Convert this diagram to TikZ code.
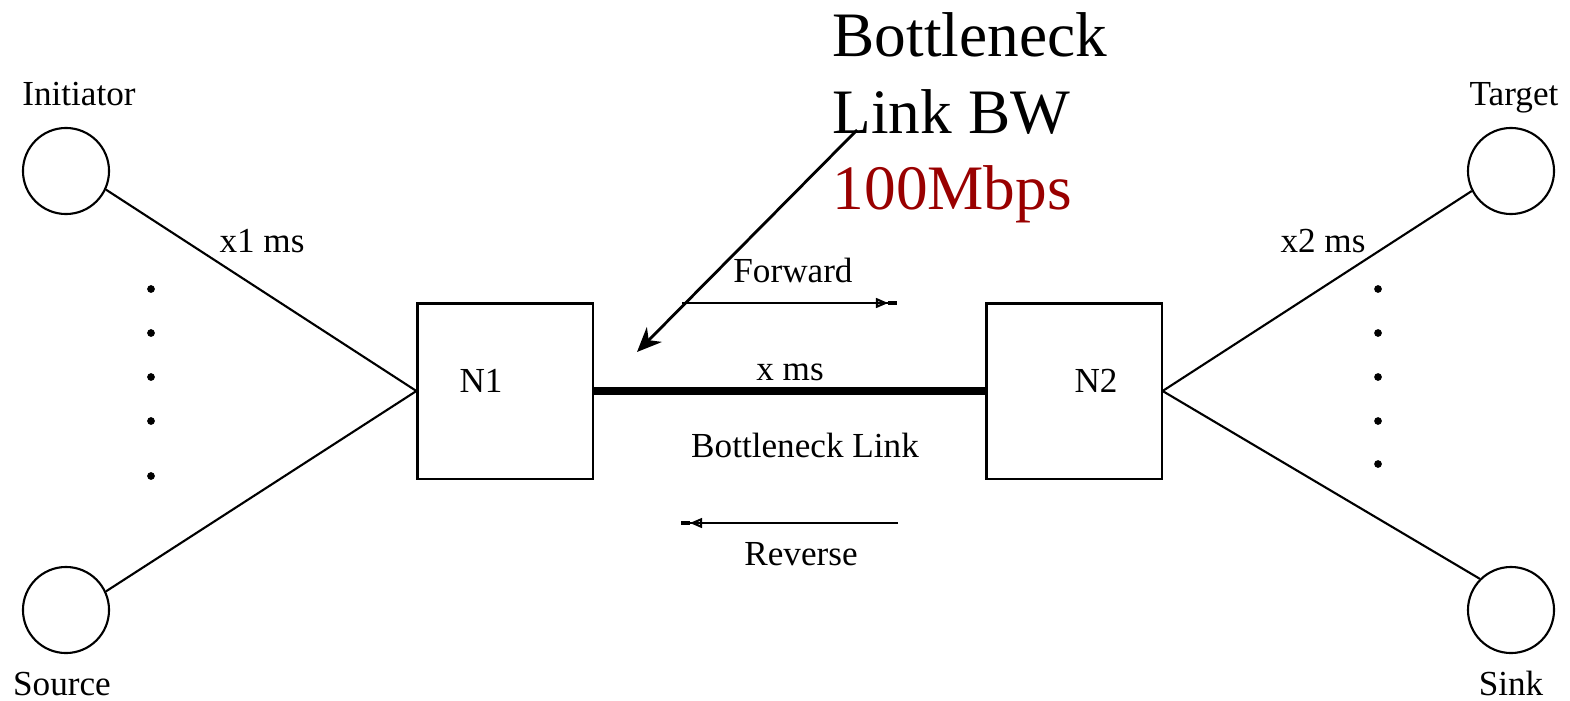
\documentclass[tikz,border=0pt]{standalone}
\usepackage{fontspec}
\setmainfont{Liberation Serif}
\usepackage{tikz}
\usetikzlibrary{arrows.meta,positioning}
\definecolor{bwred}{RGB}{153,0,0}

\begin{document}
\begin{tikzpicture}[
    x=0.01cm, y=-0.01cm,
    host/.style={circle, draw, line width=0.6pt, minimum size=0.86cm, inner sep=0pt},
    router/.style={rectangle, draw, line width=0.6pt, minimum width=1.75cm, minimum height=1.75cm, inner sep=0pt},
    lbl/.style={inner sep=0pt, anchor=base, font=\fontsize{10}{12}\selectfont},
    link/.style={line width=0.6pt},
    dirarrow/.style={line width=0.6pt, -{Triangle[open,length=3.5pt,width=2.8pt] Rectangle[length=2.5pt,width=1.2pt]}}
]
\useasboundingbox (0,0) rectangle (1570,700);

% end hosts
\node[host] (I) at (66,171) {};
\node[host] (S) at (66,610) {};
\node[host] (T) at (1511,171) {};
\node[host] (K) at (1511,610) {};
\node[lbl] (Ilbl) at (79,105) {Initiator};
\node[lbl] (Slbl) at (62,695) {Source};
\node[lbl] (Tlbl) at (1514,105) {Target};
\node[lbl] (Klbl) at (1511,695) {Sink};

% routers
\node[router] (N1) at (505,391) {};
\node[router] (N2) at (1074,391) {};
\node[lbl] (N1lbl) at (481,392) {N1};
\node[lbl] (N2lbl) at (1096,392) {N2};

% access links
\draw[link] (I.-25) -- (N1.west);
\draw[link] (S.25) -- (N1.west);
\draw[link] (T.-153) -- (N2.east);
\draw[link] (K.135) -- (N2.east);
\node[lbl] (x1) at (262,252) {x1 ms};
\node[lbl] (x2) at (1323,252) {x2 ms};

\foreach \y in {289,333,377,421,476}
    \fill (151,\y) circle (1.1pt);
\foreach \y in {289,333,377,421,464}
    \fill (1378,\y) circle (1.1pt);

% bottleneck
\draw[line width=2pt] (N1.east) -- (N2.east -| N2.west);
\node[lbl] (xms) at (790,380) {x ms};
\node[lbl] (bname) at (805,457) {Bottleneck Link};

\coordinate (fwdA) at (682,303);
\coordinate (fwdB) at (897,303);
\coordinate (revA) at (898,523);
\coordinate (revB) at (681,523);
\draw[dirarrow] (fwdA) -- (fwdB);
\draw[dirarrow] (revA) -- (revB);
\node[lbl] (fwd) at (793,282) {Forward};
\node[lbl] (rev) at (801,565) {Reverse};

% annotation
\node[inner sep=0pt, anchor=north west, align=left, font=\fontsize{18}{21.8}\selectfont] (bw) at (832,12)
    {Bottleneck\\Link BW\\{\color{bwred}100Mbps}};
\coordinate (bwA) at (857,130);
\coordinate (bwB) at (637,352);
\draw[line width=0.8pt, -{Stealth[length=7pt,width=6pt]}] (bwA) -- (bwB);
\end{tikzpicture}
\end{document}
